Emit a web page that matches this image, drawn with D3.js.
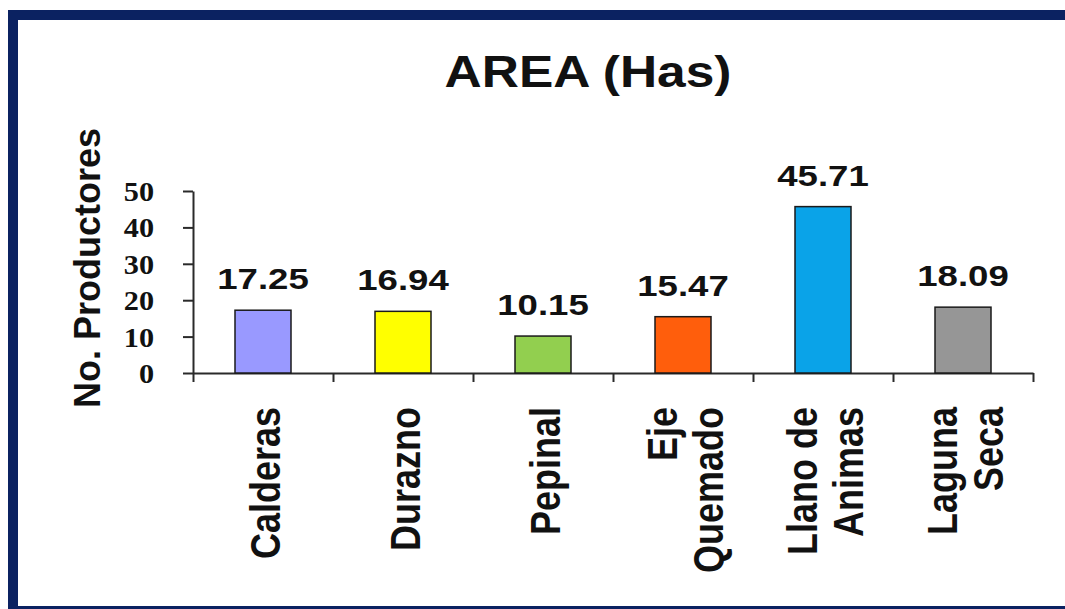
<!DOCTYPE html>
<html>
<head>
<meta charset="utf-8">
<script src="https://cdn.jsdelivr.net/npm/d3@7"></script>
<style>
  html, body { margin: 0; padding: 0; background: #ffffff; overflow: hidden; }
  svg { display: block; }
</style>
</head>
<body>
<svg id="chart" width="1065" height="609"></svg>
<script>
// ---- data ----
const categories = ["Calderas", "Durazno", "Pepinal", "Eje Quemado", "Llano de Animas", "Laguna Seca"];
const categoryLines = [["Calderas"], ["Durazno"], ["Pepinal"], ["Eje", "Quemado"], ["Llano de", "Animas"], ["Laguna", "Seca"]];
const values = [17.25, 16.94, 10.15, 15.47, 45.71, 18.09];
const valueLabels = ["17.25", "16.94", "10.15", "15.47", "45.71", "18.09"];
const barColors = ["#9999ff", "#ffff00", "#92cf4f", "#ff5e0c", "#0aa3e8", "#969696"];
const yTicks = [0, 10, 20, 30, 40, 50];
const titleText = "AREA (Has)";
const yTitle = "No. Productores";

// ---- layout ----
const W = 1065, H = 609;
const plotLeft = 193, plotRight = 1033, plotTop = 191, plotBottom = 373;
const sans = "'Liberation Sans', Arial, sans-serif";
const serif = "'Liberation Serif', 'Times New Roman', serif";
const axisColor = "#2a2a2a";

const svg = d3.select("#chart");

// frame: top, left and bottom bands (right edge lies outside the picture)
svg.append("path")
  .attr("d", `M${W + 20},15 L13,15 L13,611 L${W + 20},611`)
  .attr("fill", "none")
  .attr("stroke", "#0b2261").attr("stroke-width", 10);

// scales
const y = d3.scaleLinear().domain([0, 50]).range([plotBottom, plotTop]);
const xBand = d3.scaleBand().domain(categories).range([plotLeft, plotRight]).paddingInner(0.6).paddingOuter(0.3);
const xCenter = d3.scaleBand().domain(categories).range([plotLeft, plotRight]).padding(0);
const xEdge = d3.scaleLinear().domain([0, categories.length]).range([plotLeft, plotRight]);

// title
svg.append("g")
  .attr("transform", `translate(588,87) scale(1.17,1)`)
  .append("text")
  .attr("text-anchor", "middle")
  .attr("font-family", sans).attr("font-weight", "bold")
  .attr("font-size", 44).attr("fill", "#111")
  .text(titleText);

// y title
svg.append("g")
  .attr("transform", `translate(100,268) scale(1.05,1) rotate(-90)`)
  .append("text")
  .attr("text-anchor", "middle")
  .attr("font-family", sans).attr("font-weight", "bold")
  .attr("font-size", 36).attr("fill", "#111")
  .text(yTitle);

// y axis
const yAxis = svg.append("g")
  .attr("transform", `translate(${plotLeft},0)`)
  .call(d3.axisLeft(y).tickValues(yTicks).tickSize(10).tickSizeOuter(0).tickPadding(30).tickFormat(d3.format("d")));
yAxis.select(".domain").attr("stroke", axisColor).attr("stroke-width", 2);
yAxis.selectAll(".tick line").attr("stroke", axisColor).attr("stroke-width", 2);
yAxis.selectAll(".tick text")
  .attr("font-family", serif).attr("font-weight", "bold")
  .attr("font-size", 28).attr("fill", "#111")
  .attr("x", -39 / 1.08)
  .attr("dy", "0.34em")
  .attr("transform", "scale(1.08,1)");

// x axis (ticks at category boundaries)
const xAxis = svg.append("g")
  .attr("transform", `translate(0,${plotBottom})`)
  .call(d3.axisBottom(xEdge).tickValues(d3.range(categories.length + 1)).tickSize(9).tickSizeOuter(0).tickFormat(""));
xAxis.select(".domain").attr("stroke", axisColor).attr("stroke-width", 2);
xAxis.selectAll(".tick line").attr("stroke", axisColor).attr("stroke-width", 2);

// bars
svg.append("g").selectAll("rect")
  .data(values)
  .join("rect")
  .attr("x", (d, i) => xBand(categories[i]))
  .attr("y", d => y(d))
  .attr("width", xBand.bandwidth())
  .attr("height", d => y(0) - y(d))
  .attr("fill", (d, i) => barColors[i])
  .attr("stroke", "#1a1a1a").attr("stroke-width", 1.5);

// value labels
svg.append("g").selectAll("g")
  .data(values)
  .join("g")
  .attr("transform", (d, i) => `translate(${xCenter(categories[i]) + xCenter.bandwidth() / 2},${y(d) - 21}) scale(1.22,1)`)
  .append("text")
  .attr("text-anchor", "middle")
  .attr("font-family", sans).attr("font-weight", "bold")
  .attr("font-size", 30).attr("fill", "#111")
  .text((d, i) => valueLabels[i]);

// category labels (rotated)
const catG = svg.append("g").selectAll("g")
  .data(categories)
  .join("g")
  .attr("transform", c => `translate(${xCenter(c) + xCenter.bandwidth() / 2},407) scale(1.2,1) rotate(-90)`);
catG.each(function (c, i) {
  const lines = categoryLines[i];
  const offs = lines.length === 1 ? [14] : [-5, 33];
  d3.select(this).selectAll("text")
    .data(lines)
    .join("text")
    .attr("x", 0)
    .attr("y", (t, j) => offs[j])
    .attr("text-anchor", "end")
    .attr("font-family", sans).attr("font-weight", "bold")
    .attr("font-size", 36).attr("fill", "#111")
    .text(t => t);
});
</script>
</body>
</html>
